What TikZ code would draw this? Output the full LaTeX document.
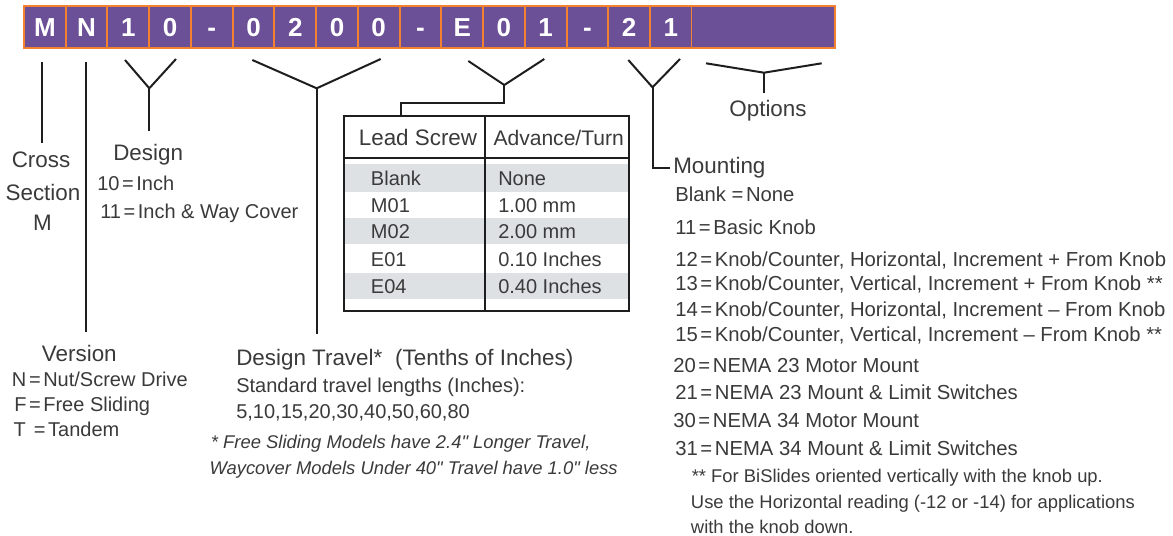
\documentclass[tikz,border=0pt]{standalone}
\usepackage{fontspec}
\setmainfont{Liberation Sans}
\definecolor{barpurple}{HTML}{6B4F97}
\definecolor{barorange}{HTML}{F3812F}
\definecolor{txtc}{HTML}{3A3A3A}
\definecolor{rowgray}{HTML}{DDE1E4}
\definecolor{lnc}{HTML}{1E1E1E}
\newcommand\myeq{\kern0.13em=\kern0.13em}
\newcommand\qd{\textquotedbl}
\tikzset{
  txt/.style={inner sep=0pt, anchor=base west, text=txtc, font=\fontsize{15}{18}\selectfont},
  mtxt/.style={txt, font=\fontsize{15.2}{18}\selectfont},
  hd/.style={txt, font=\fontsize{16.8}{20}\selectfont},
  fnote/.style={txt, font=\fontsize{13.8}{16}\selectfont},
  fnit/.style={txt, font=\fontsize{13.8}{16}\itshape\selectfont},
  conn/.style={draw=lnc, line width=1.5pt},
  cell/.style={fill=barpurple, inner sep=0pt, minimum width=29.8pt, minimum height=29.5pt,
    text=white, text height=14.25pt, text depth=0pt, font=\fontsize{19.5}{20}\bfseries\selectfont},
}
\begin{document}
\begin{tikzpicture}[x=0.75pt,y=-0.75pt]
\useasboundingbox (0,0) rectangle (1173,535);
% bar
\fill[barorange] (23.3,5) rectangle (835.7,49.3);
\foreach \ch [count=\i from 0] in {M,N,1,0,-,0,2,0,0,-,E,0,1,-,2,1} {
  \node[cell] (c\i) at ({25+41.73*\i+19.87},27) {\ch};
}
\node[cell, minimum width=106.2pt] (c16) at (763.2,27) {};

% Cross section
\coordinate (csA) at (42,62);
\coordinate (csB) at (42,143);
\draw[conn] (csA) -- (csB);
\node[hd, anchor=base] (cross) at (41,167) {Cross};
\node[hd, anchor=base] (section) at (43,200.7) {Section};
\node[hd, anchor=base] (csM) at (42.5,230) {M};

% Version
\coordinate (vA) at (86.3,62);
\coordinate (vB) at (86.3,332);
\draw[conn] (vA) -- (vB);
\node[hd] (version) at (41.7,361.7) {Version};
\node[txt] (vN) at (11.7,386.7) {N\myeq Nut/Screw Drive};
\node[txt] (vF) at (14,411) {F\myeq Free Sliding};
\node[txt] (vT) at (13.3,436.7) {T \myeq Tandem};

% Design
\coordinate (dL) at (125,60);
\coordinate (dJ) at (149.3,88.3);
\coordinate (dR) at (176,59);
\coordinate (dS) at (149.3,131);
\draw[conn] (dL) -- (dJ) -- (dR);
\draw[conn] (dJ) -- (dS);
\node[hd] (design) at (113,160.7) {Design};
\node[txt] (d10) at (97,190.7) {10\myeq Inch};
\node[txt] (d11) at (100,218) {11\myeq Inch \& Way Cover};

% Design travel
\coordinate (tL) at (252.3,60);
\coordinate (tJ) at (316.7,88.3);
\coordinate (tR) at (380.7,59);
\coordinate (tS) at (316.7,334);
\draw[conn] (tL) -- (tJ) -- (tR);
\draw[conn] (tJ) -- (tS);
\node[hd] (travel) at (236,365) {Design Travel*\hspace{0.3em} (Tenths of Inches)};
\node[txt] (std) at (236,392.7) {Standard travel lengths (Inches):};
\node[txt] (lens) at (236,418) {5,10,15,20,30,40,50,60,80};
\node[fnit] (tf1) at (210.7,448.3) {* Free Sliding Models have 2.4\qd{} Longer Travel,};
\node[fnit] (tf2) at (209.3,474) {Waycover Models Under 40\qd{} Travel have 1.0\qd{} less};

% Lead screw
\coordinate (lL) at (468.3,61);
\coordinate (lJ) at (504.3,85);
\coordinate (lR) at (544.3,59);
\coordinate (lK) at (504.3,102.7);
\coordinate (lM) at (400.7,102.7);
\coordinate (tblIn) at (400.7,116);
\draw[conn] (lL) -- (lJ) -- (lR);
\draw[conn] (lJ) -- (lK) -- (lM) -- (tblIn);
% table
\fill[rowgray] (344,164) rectangle (629,191.7);
\fill[rowgray] (344,218.3) rectangle (629,244.3);
\fill[rowgray] (344,272.7) rectangle (629,299.3);
\draw[conn] (344,116) rectangle (629,310.7);
\draw[conn] (485.3,116) -- (485.3,310.7);
\draw[conn] (344,158.3) -- (629,158.3);
\node[hd, anchor=base] (hLS) at (418,145) {Lead Screw};
\node[hd, anchor=base, font=\fontsize{15.8}{18}\selectfont] (hAT) at (558.7,145) {Advance/Turn};
\node[txt] (r1a) at (370.7,185) {Blank};
\node[txt] (r1b) at (498,185) {None};
\node[txt] (r2a) at (370.7,212.7) {M01};
\node[txt] (r2b) at (498,212.7) {1.00 mm};
\node[txt] (r3a) at (370.7,238.3) {M02};
\node[txt] (r3b) at (498,238.3) {2.00 mm};
\node[txt] (r4a) at (370.7,266) {E01};
\node[txt] (r4b) at (498,266) {0.10 Inches};
\node[txt] (r5a) at (370.7,293.3) {E04};
\node[txt] (r5b) at (498,293.3) {0.40 Inches};

% Mounting
\coordinate (mL) at (628.3,60);
\coordinate (mJ) at (652.5,87.3);
\coordinate (mR) at (680,59);
\coordinate (mC) at (652.5,168.3);
\coordinate (mE) at (670,168.3);
\draw[conn] (mL) -- (mJ) -- (mR);
\draw[conn] (mJ) -- (mC) -- (mE);
\node[hd] (mount) at (673,173.3) {Mounting};
\node[mtxt] (m0) at (675,201.7) {Blank =\kern0.13em None};
\node[mtxt] (m11) at (675,234) {11\myeq Basic Knob};
\node[mtxt] (m12) at (675,266.7) {12\myeq Knob/Counter, Horizontal, Increment + From Knob};
\node[mtxt] (m13) at (675,290.7) {13\myeq Knob/Counter, Vertical, Increment + From Knob **};
\node[mtxt] (m14) at (675,316) {14\myeq Knob/Counter, Horizontal, Increment – From Knob};
\node[mtxt] (m15) at (675,341) {15\myeq Knob/Counter, Vertical, Increment – From Knob **};
\node[mtxt] (m20) at (673,372) {20\myeq NEMA 23 Motor Mount};
\node[mtxt] (m21) at (675,399) {21\myeq NEMA 23 Mount \& Limit Switches};
\node[mtxt] (m30) at (673,427) {30\myeq NEMA 34 Motor Mount};
\node[mtxt] (m31) at (675,455) {31\myeq NEMA 34 Mount \& Limit Switches};
\node[fnote] (mf1) at (691.5,482) {** For BiSlides oriented vertically with the knob up.};
\node[fnote] (mf2) at (690.7,508) {Use the Horizontal reading (-12 or -14) for applications};
\node[fnote] (mf3) at (690.7,533) {with the knob down.};

% Options
\coordinate (oL) at (706,63.3);
\coordinate (oJ) at (764,72.7);
\coordinate (oR) at (821.7,63.3);
\coordinate (oS) at (764,92.7);
\draw[conn] (oL) -- (oJ) -- (oR);
\draw[conn] (oJ) -- (oS);
\node[hd, anchor=base] (options) at (768,116) {Options};
\end{tikzpicture}
\end{document}
